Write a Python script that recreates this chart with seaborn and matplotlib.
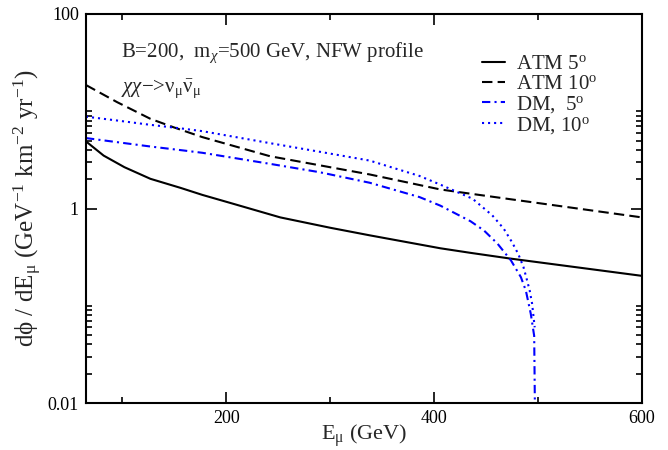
import matplotlib
matplotlib.use("Agg")
import matplotlib.pyplot as plt
import seaborn as sns
import pandas as pd
from matplotlib.ticker import FixedLocator, FixedFormatter, NullFormatter

# ---- data ----
atm5_e = [65, 82, 102, 127, 156, 177, 204, 252, 300, 338, 406, 435, 473, 600]
atm5_v = [4.9, 3.5, 2.66, 2.02, 1.63, 1.38, 1.14, 0.81, 0.634, 0.53, 0.39, 0.35, 0.306, 0.203]

atm10_e = [65, 95, 127, 149, 177, 242, 338, 406, 435, 600]
atm10_v = [18.6, 12.4, 8.36, 6.86, 5.42, 3.45, 2.24, 1.57, 1.42, 0.81]

dm5_e = [65, 95, 127, 159, 177, 242, 290, 338, 386, 406, 435, 448, 461, 474, 483.5, 488.3, 493, 496.3, 497]
dm5_v = [5.3, 4.81, 4.34, 3.95, 3.74, 2.88, 2.36, 1.84, 1.31, 1.07, 0.74, 0.594, 0.435, 0.292, 0.197, 0.143, 0.083, 0.049, 0.009]

dm10_e = [65, 95, 127, 159, 177, 242, 290, 338, 386, 406, 437, 456, 467, 475, 481, 486, 489, 492, 494.3, 496.8]
dm10_v = [8.8, 8.03, 7.25, 6.61, 6.24, 4.7, 3.83, 3.11, 2.16, 1.76, 1.26, 0.85, 0.62, 0.45, 0.34, 0.25, 0.19, 0.143, 0.105, 0.06]

labels = ["ATM 5$^{\\mathrm{o}}$", "ATM 10$^{\\mathrm{o}}$",
          "DM,  5$^{\\mathrm{o}}$", "DM, 10$^{\\mathrm{o}}$"]

y_major = [0.01, 1, 100]
y_major_labels = ["0.01", "1", "100"]
y_minor = [0.02, 0.03, 0.04, 0.05, 0.06, 0.07, 0.08, 0.09, 0.1,
           2, 3, 4, 5, 6, 7, 8, 9, 10]
x_major = [200, 400, 600]
x_minor = [100, 300, 500]

# ---- style ----
sns.set_style("ticks")
plt.rcParams["font.family"] = ["Liberation Serif", "DejaVu Serif"]
plt.rcParams["mathtext.fontset"] = "custom"
plt.rcParams["mathtext.rm"] = "Liberation Serif"
plt.rcParams["mathtext.it"] = "Liberation Serif:italic"
plt.rcParams["mathtext.bf"] = "Liberation Serif:bold"

fig = plt.figure(figsize=(6.68, 4.5), dpi=100)
ax = fig.add_axes([0.1287, 0.1044, 0.8323, 0.8645])

series = [
    (atm5_e, atm5_v, "black", "-"),
    (atm10_e, atm10_v, "black", (0, (5, 2.5))),
    (dm5_e, dm5_v, "#0000ff", (0, (4, 2, 1, 2))),
    (dm10_e, dm10_v, "#0000ff", (0, (1, 1.9))),
]
for (e, v, c, ls), lab in zip(series, labels):
    df = pd.DataFrame({"E": e, "flux": v})
    sns.lineplot(data=df, x="E", y="flux", ax=ax, color=c, linestyle=ls,
                 linewidth=1.5, label=lab, sort=False, estimator=None)

ax.set_yscale("log")
ax.set_xlim(65, 600)
ax.set_ylim(0.01, 100)

ax.yaxis.set_major_locator(FixedLocator(y_major))
ax.yaxis.set_major_formatter(FixedFormatter(y_major_labels))
ax.yaxis.set_minor_locator(FixedLocator(y_minor))
ax.yaxis.set_minor_formatter(NullFormatter())
ax.xaxis.set_major_locator(FixedLocator(x_major))
ax.xaxis.set_minor_locator(FixedLocator(x_minor))
ax.xaxis.set_minor_formatter(NullFormatter())

ax.tick_params(which="both", direction="in", top=True, right=True,
               colors="black", labelsize=13, width=1.2, pad=5)
ax.tick_params(which="major", length=8)
ax.tick_params(which="minor", length=4)
for s in ax.spines.values():
    s.set_linewidth(1.5)
    s.set_color("black")

ax.set_xlabel("E$_{\\mathrm{μ}}$ (GeV)", fontsize=16, labelpad=-3)
ax.set_ylabel("dϕ / dE$_{\\mathrm{μ}}$ (GeV$^{\\mathrm{-1}}$ km$^{\\mathrm{-2}}$ yr$^{\\mathrm{-1}}$)",
              fontsize=18, labelpad=3)

ax.text(0.063, 0.889, "B=200,  m$_{χ}$=500 GeV, NFW profile",
        transform=ax.transAxes, fontsize=15, va="baseline", ha="left")
ax.text(0.063, 0.80, "$\\chi\\chi$−>ν$_{\\mathrm{μ}}\\bar{\\mathrm{ν}}_{\\mathrm{μ}}$",
        transform=ax.transAxes, fontsize=15, va="baseline", ha="left")

ax.legend(loc="upper left", bbox_to_anchor=(0.712, 0.895), frameon=False,
          fontsize=15, handlelength=1.1, handletextpad=0.55,
          labelspacing=0.0, borderpad=0, borderaxespad=0)

fig.savefig("out.png", dpi=100)
